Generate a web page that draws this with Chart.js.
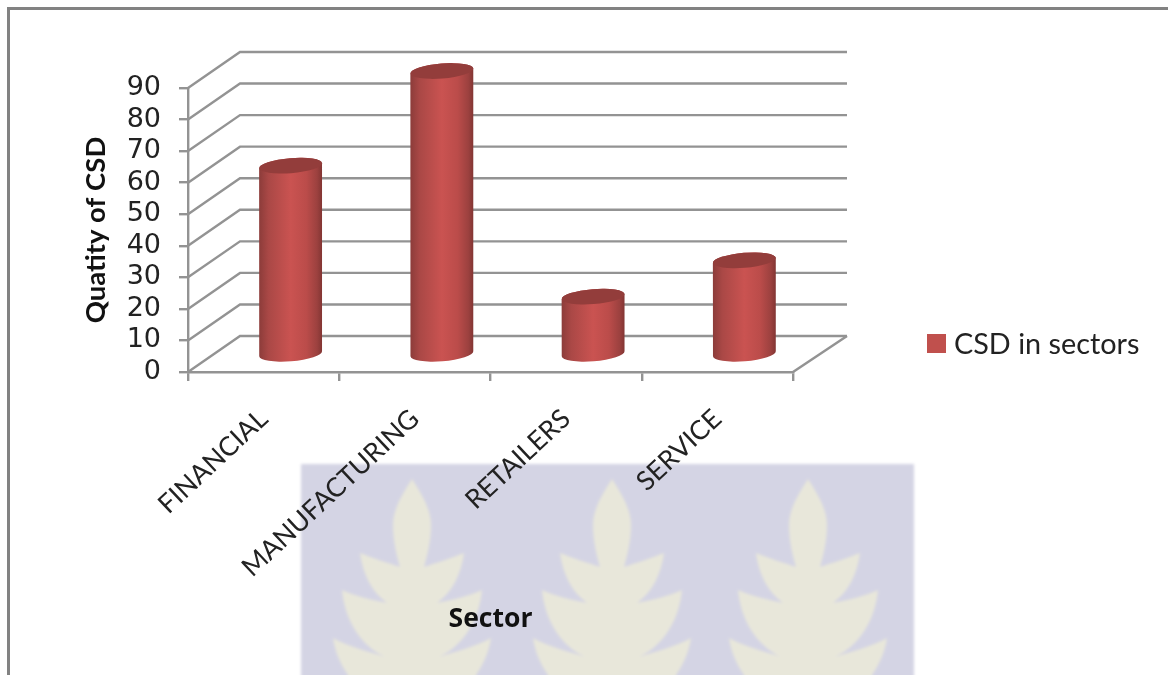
<!DOCTYPE html>
<html>
<head>
<meta charset="utf-8">
<title>CSD in sectors</title>
<script src="https://cdn.jsdelivr.net/npm/chart.js@4"></script>
<style>
  html, body { margin: 0; padding: 0; background: #fff; }
  #page { position: relative; width: 1168px; height: 675px; overflow: hidden; }
  #frame { position: absolute; left: 7px; top: 7px; right: -4px; bottom: -4px; border: 3px solid #828282; box-sizing: border-box; }
  #mark { position: absolute; left: 0; top: 0; }
  #graph { position: absolute; left: 0; top: 0; }
  #legend { position: absolute; left: 927px; top: 325px; height: 36px; display: flex; align-items: center; font: 28.8px Lato, sans-serif; color: #222; white-space: nowrap; }
  #legend i { display: block; width: 19px; height: 19px; margin-right: 8px; }
</style>
</head>
<body>
<div id="page">
  <div id="frame"></div>
  <!-- page background crest -->
  <svg id="mark" width="1168" height="675">
    <defs>
      <filter id="soft"><feGaussianBlur stdDeviation="1.8"/></filter>
      <path id="tree" d="M0 479 C-8 492 -19 508 -19 525 C-19 542 -15 556 -12 567 C-24 563 -40 558 -52 553 C-49 575 -40 592 -25 603 C-40 600 -57 596 -70 590 C-67 620 -52 645 -27 657 C-42 652 -65 646 -79 638 C-77 652 -71 665 -64 675 L-64 690 L64 690 L64 675 C71 665 77 652 79 638 C65 646 42 652 27 657 C52 645 67 620 70 590 C57 596 40 600 25 603 C40 592 49 575 52 553 C40 558 24 563 12 567 C15 556 19 542 19 525 C19 508 8 492 0 479 Z"/>
    </defs>
    <g filter="url(#soft)">
      <rect x="301" y="464" width="613" height="230" fill="#d4d4e4"/>
      <use href="#tree" x="412" fill="#e8e7da"/>
      <use href="#tree" x="612" fill="#e8e7da"/>
      <use href="#tree" x="808" fill="#e8e7da"/>
    </g>
  </svg>
  <canvas id="graph" width="1168" height="675"></canvas>
  <div id="legend"></div>
</div>
<script>
const sectors = ['FINANCIAL', 'MANUFACTURING', 'RETAILERS', 'SERVICE'];
const csdValues = [60, 90, 18.5, 30];
const seriesName = 'CSD in sectors';
const yTicks = [0, 10, 20, 30, 40, 50, 60, 70, 80, 90];

const lineColor = '#939393';
const textColor = '#222222';
// how far the back wall and the columns sit behind the front plane
const wallDepth = { x: 52, y: -36 };
const columnDepth = { x: 27, y: -17 };

// back wall, side wall and floor lines, hung off the y scale
const wallPlugin = {
  id: 'wall',
  beforeDatasetsDraw(chart) {
    const { ctx, chartArea, scales } = chart;
    const frontLeft = chartArea.left;
    const frontRight = chartArea.right;
    ctx.save();
    ctx.strokeStyle = lineColor;
    ctx.lineWidth = 2.4;
    yTicks.forEach((tick) => {
      const y = scales.y.getPixelForValue(tick);
      ctx.beginPath();
      ctx.moveTo(frontLeft, y);
      ctx.lineTo(frontLeft + wallDepth.x, y + wallDepth.y);
      ctx.lineTo(frontRight + wallDepth.x + 2, y + wallDepth.y);
      ctx.stroke();
    });
    const floorY = scales.y.getPixelForValue(0);
    ctx.beginPath();
    ctx.moveTo(frontRight, floorY);
    ctx.lineTo(frontRight + wallDepth.x + 2, floorY + wallDepth.y);
    ctx.stroke();
    ctx.restore();
  },
};

// turns each bar element into a slightly tilted cylinder
const cylinderPlugin = {
  id: 'cylinder',
  afterDatasetsDraw(chart) {
    const { ctx } = chart;
    const tilt = -0.08;
    chart.getDatasetMeta(0).data.forEach((bar) => {
      const { x, y, base, width } = bar.getProps(['x', 'y', 'base', 'width']);
      const cx = x + columnDepth.x;
      const top = y + columnDepth.y;
      const bottom = base + columnDepth.y;
      const rx = width / 2;
      const ry = 7.5;
      const dy = rx * Math.sin(tilt);

      const shade = ctx.createLinearGradient(cx - rx, 0, cx + rx, 0);
      shade.addColorStop(0, '#8c3c3a');
      shade.addColorStop(0.15, '#aa4846');
      shade.addColorStop(0.5, '#ca5351');
      shade.addColorStop(0.75, '#bb4c4a');
      shade.addColorStop(0.92, '#9c413f');
      shade.addColorStop(1, '#823533');

      ctx.save();
      ctx.beginPath();
      ctx.ellipse(cx, bottom, rx, ry, tilt, 0, Math.PI);
      ctx.lineTo(cx - rx, top - dy);
      ctx.ellipse(cx, top, rx, ry, tilt, Math.PI, 0);
      ctx.closePath();
      ctx.fillStyle = shade;
      ctx.fill();

      ctx.beginPath();
      ctx.ellipse(cx, top, rx, ry, tilt, 0, Math.PI * 2);
      ctx.fillStyle = '#933d3b';
      ctx.fill();
      ctx.restore();
    });
  },
};

const chart = new Chart(document.getElementById('graph'), {
  type: 'bar',
  data: {
    labels: sectors,
    datasets: [{
      label: seriesName,
      data: csdValues,
      backgroundColor: 'rgba(0,0,0,0)',
      barThickness: 63,
      clip: false,
    }],
  },
  options: {
    responsive: false,
    animation: false,
    layout: { padding: { left: 76, top: 88, right: 375, bottom: 36 } },
    plugins: {
      legend: { display: false },
      tooltip: { enabled: false },
    },
    scales: {
      x: {
        grid: { drawOnChartArea: false, color: lineColor, lineWidth: 2.4, tickLength: 9 },
        border: { color: lineColor, width: 2.4 },
        ticks: {
          autoSkip: false,
          minRotation: 43,
          maxRotation: 43,
          padding: 22,
          color: textColor,
          font: { family: 'Lato', size: 26.6 },
        },
        title: {
          display: true,
          text: 'Sector',
          color: '#111',
          font: { family: 'Open Sans', size: 26.5, weight: 'bold' },
        },
        afterFit(scale) { scale.height = 267; },
      },
      y: {
        min: 0,
        max: 90,
        ticks: {
          stepSize: 10,
          autoSkip: false,
          padding: 18,
          color: textColor,
          font: { family: 'DejaVu Sans', size: 27 },
        },
        grid: { drawOnChartArea: false, color: lineColor, lineWidth: 2.4, tickLength: 9 },
        border: { color: lineColor, width: 2.4 },
        title: {
          display: true,
          text: 'Quatity of CSD',
          color: '#111',
          font: { family: 'Lato', size: 27.5, weight: 'bold' },
        },
        afterFit(scale) { scale.width = 112; },
      },
    },
  },
  plugins: [wallPlugin, cylinderPlugin],
});

// legend sits well clear of the plot, so it is plain markup
const legendEl = document.getElementById('legend');
const swatch = document.createElement('i');
swatch.style.background = '#c0504d';
legendEl.appendChild(swatch);
legendEl.appendChild(document.createTextNode(chart.data.datasets[0].label));
</script>
</body>
</html>
